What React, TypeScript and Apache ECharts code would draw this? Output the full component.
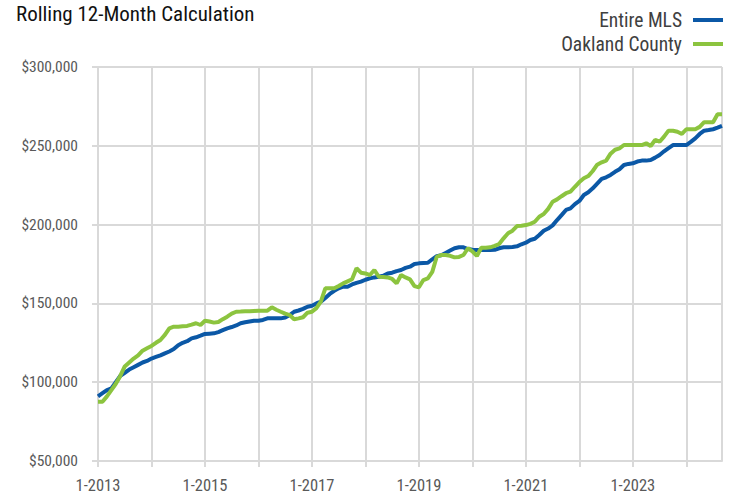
import React, { useEffect, useRef } from 'react';
import * as echarts from 'echarts';

const START_YEAR = 2013;
const MONTH_COUNT = 141;
const categories: string[] = [];
for (let i = 0; i < MONTH_COUNT; i++) {
  categories.push(`${(i % 12) + 1}-${START_YEAR + Math.floor(i / 12)}`);
}

const entireMLS: number[] = [
  91000, 93000, 95000, 96000, 100000, 104000, 106000, 108000, 109500, 111000, 112500, 113500,
  115000, 116000, 117000, 118300, 119500, 121000, 123500, 125000, 126000, 127800, 128500, 129500,
  130600, 130800, 131000, 131800, 133000, 134200, 135000, 136000, 137400, 138000, 138500, 139000,
  139000, 139500, 140500, 140500, 140500, 140500, 141000, 142600, 144700, 145500, 146500, 147900,
  148500, 150000, 151100, 153500, 156000, 158000, 159600, 160600, 160600, 162000, 163000, 163800,
  165000, 165900, 166500, 166900, 167500, 169000, 169500, 170500, 171200, 172500, 173300, 175000,
  175400, 175600, 175800, 178000, 180000, 180500, 182000, 183500, 185000, 185600, 185600, 184500,
  184000, 183900, 183900, 184000, 183900, 184000, 185000, 185600, 185600, 185800, 186200, 187500,
  188500, 190200, 191000, 193400, 196100, 197500, 199500, 202900, 206000, 209300, 210300, 213000,
  215000, 218800, 220500, 223000, 226000, 229000, 230000, 231500, 233500, 235100, 237800, 238500,
  238900, 240000, 240600, 240600, 241000, 242500, 244200, 246500, 248500, 250500, 250500, 250500,
  250500, 252500, 254700, 257500, 259600, 260000, 260500, 261500, 262600,
];

const oaklandCounty: number[] = [
  87600, 87600, 91000, 95000, 99000, 104000, 110000, 112500, 115000, 117000, 120000, 121500,
  123000, 125000, 126800, 130000, 134200, 135200, 135200, 135500, 135700, 136500, 137400, 136300,
  139000, 138500, 137800, 138200, 140000, 141600, 143500, 144700, 144800, 145000, 145000, 145200,
  145400, 145400, 145400, 147500, 146000, 144700, 143500, 142600, 139900, 140500, 141200, 144100,
  144700, 147000, 151100, 159600, 159600, 159600, 161000, 162700, 164000, 165300, 172300, 169500,
  169000, 168000, 171200, 166900, 166700, 166500, 165500, 162700, 168000, 166500, 165300, 161000,
  160200, 164800, 165900, 170000, 179600, 180700, 180700, 180200, 179200, 179500, 180700, 185000,
  183000, 180100, 185300, 185300, 185600, 186500, 187700, 191300, 194500, 196100, 199100, 199300,
  199700, 200500, 201800, 205000, 206700, 210000, 214500, 216000, 218000, 219900, 220900, 224000,
  227000, 229400, 230800, 234000, 238000, 239500, 240600, 245000, 247500, 248400, 250500, 250500,
  250500, 250500, 250500, 251600, 249900, 253700, 252600, 255800, 259600, 259500, 258900, 257500,
  260500, 260500, 260500, 262000, 265000, 265000, 265000, 270000, 270000,
];

const seriesNames = ['Entire MLS', 'Oakland County'];
const seriesColors = ['#0b58a6', '#8cc43f'];
const title = 'Rolling 12-Month Calculation';

const FONT = '"Liberation Sans Narrow", "Roboto Condensed", "DejaVu Sans Condensed", "Liberation Sans", sans-serif';
const GRID = '#d9d9d9';

export default function App() {
  const ref = useRef<HTMLDivElement>(null);
  useEffect(() => {
    if (!ref.current) return;
    const chart = echarts.init(ref.current, undefined, { renderer: 'svg' });
    const lastIdx = categories.length - 1;
    chart.setOption({
      animation: false,
      backgroundColor: '#ffffff',
      title: {
        text: title,
        left: 11,
        top: -2,
        textStyle: { fontFamily: FONT, fontSize: 21, fontWeight: 'normal', color: '#111111' },
      },
      legend: {
        orient: 'vertical',
        right: 9,
        top: 10,
        padding: 0,
        align: 'right',
        itemWidth: 30,
        itemHeight: 4,
        itemGap: 4,
        icon: 'rect',
        data: seriesNames,
        textStyle: { fontFamily: FONT, fontSize: 19.5, color: '#404040', padding: [0, 6, 0, 0] },
      },
      grid: { left: 98, right: 10, top: 67, bottom: 35, containLabel: false },
      xAxis: {
        type: 'category',
        data: categories,
        boundaryGap: false,
        axisLine: { show: true, lineStyle: { color: GRID, width: 2 } },
        axisTick: {
          show: true,
          length: 6,
          interval: (idx: number) => idx % 12 === 0,
          lineStyle: { color: GRID, width: 2 },
        },
        splitLine: {
          show: true,
          interval: (idx: number) => idx % 12 === 0 || idx === lastIdx,
          lineStyle: { color: GRID, width: 2 },
        },
        axisLabel: {
          interval: (idx: number) => idx % 24 === 0,
          margin: 16,
          fontFamily: FONT,
          fontSize: 16.5,
          color: '#595959',
        },
      },
      yAxis: {
        type: 'value',
        min: 50000,
        max: 300000,
        interval: 50000,
        axisLine: { show: true, lineStyle: { color: GRID, width: 2 } },
        axisTick: { show: true, length: 6, lineStyle: { color: GRID, width: 2 } },
        splitLine: { show: true, lineStyle: { color: GRID, width: 2 } },
        axisLabel: {
          margin: 20,
          fontFamily: FONT,
          fontSize: 15.5,
          color: '#595959',
          formatter: (v: number) => '$' + v.toLocaleString('en-US'),
        },
      },
      series: [
        {
          name: seriesNames[0],
          type: 'line',
          data: entireMLS,
          showSymbol: false,
          symbol: 'none',
          color: seriesColors[0],
          lineStyle: { width: 4, color: seriesColors[0] },
          z: 2,
        },
        {
          name: seriesNames[1],
          type: 'line',
          data: oaklandCounty,
          showSymbol: false,
          symbol: 'none',
          color: seriesColors[1],
          lineStyle: { width: 4, color: seriesColors[1] },
          z: 3,
        },
      ],
    });
    return () => chart.dispose();
  }, []);
  return (
    <div
      ref={ref}
      style={{ position: 'fixed', left: 0, top: 0, width: 732, height: 496, background: '#fff' }}
    />
  );
}
